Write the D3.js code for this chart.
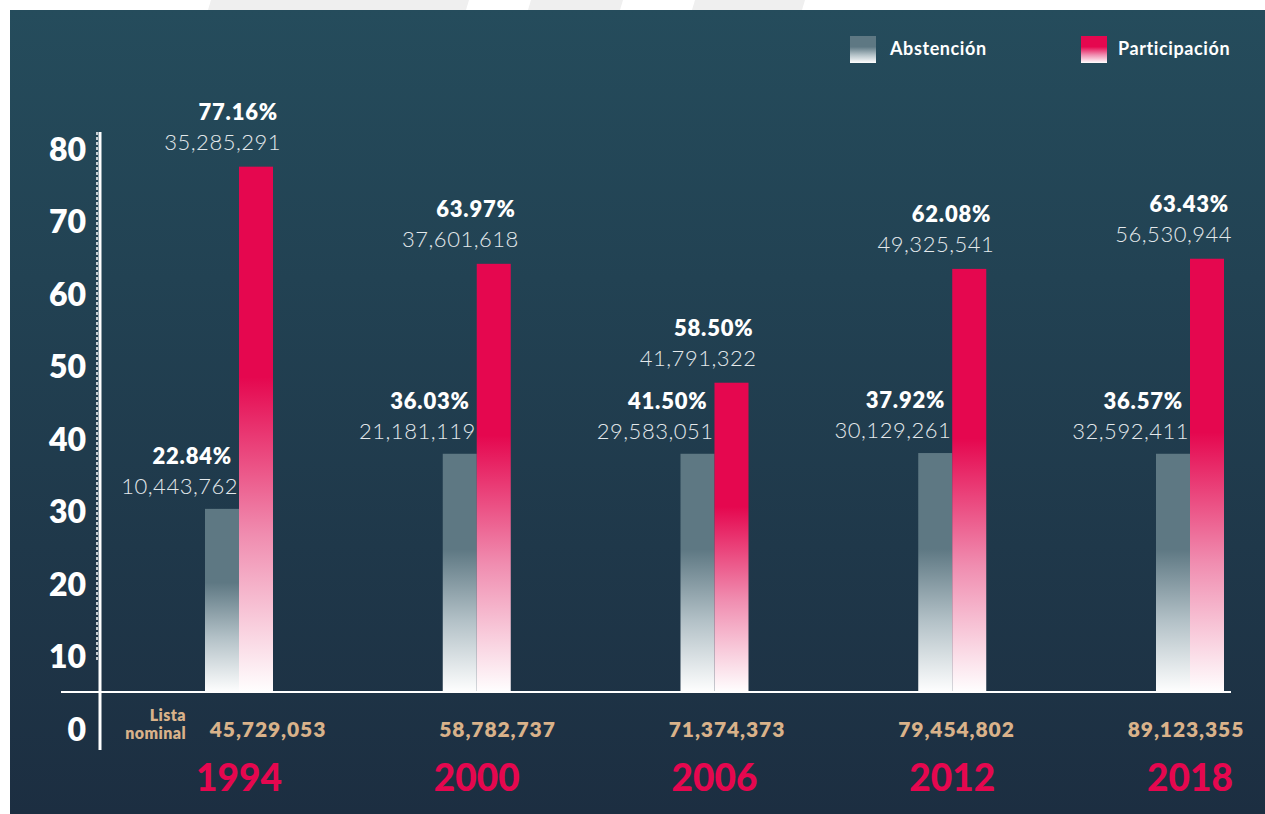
<!DOCTYPE html>
<html>
<head>
<meta charset="utf-8">
<script src="https://cdn.jsdelivr.net/npm/d3@7"></script>
<style>
  body { margin: 0; background: #ffffff; }
  svg { display: block; font-family: Lato, 'Open Sans', sans-serif; }
</style>
</head>
<body>
<svg id="chart"></svg>
<script>
// años de elección
const years = ['1994', '2000', '2006', '2012', '2018'];
// porcentajes (etiquetas)
const abstPct = [22.84, 36.03, 41.50, 37.92, 36.57];
const partPct = [77.16, 63.97, 58.50, 62.08, 63.43];
// votos
const abstVotes = [10443762, 21181119, 29583051, 30129261, 32592411];
const partVotes = [35285291, 37601618, 41791322, 49325541, 56530944];
const listaNominal = [45729053, 58782737, 71374373, 79454802, 89123355];
// altura de las barras leida contra el eje (el original no es proporcional a los %)
const abstBar = [30.5, 38.1, 38.1, 38.2, 38.1];
const partBar = [77.7, 64.3, 47.9, 63.6, 65.0];
// eje
const yTicks = [0, 10, 20, 30, 40, 50, 60, 70, 80];
const legendLabels = ['Abstención', 'Participación'];

class BarChart {

    constructor(config) {
        this.config = {
            parent: config.parent,
            width: config.width || 1265,
            height: config.height || 814
        };
        this.init();
    }

    init() {
        let self = this;

        self.svg = d3.select(self.config.parent)
            .attr('width', self.config.width)
            .attr('height', self.config.height);

        const defs = self.svg.append('defs');

        const bg = defs.append('linearGradient')
            .attr('id', 'bg').attr('x1', 0).attr('y1', 0).attr('x2', 0).attr('y2', 1);
        bg.append('stop').attr('offset', 0).attr('stop-color', '#254c5c');
        bg.append('stop').attr('offset', 1).attr('stop-color', '#1c2e41');

        const grad = (id, c, mid) => {
            const g = defs.append('linearGradient')
                .attr('id', id).attr('x1', 0).attr('y1', 0).attr('x2', 0).attr('y2', 1);
            g.append('stop').attr('offset', 0).attr('stop-color', c);
            g.append('stop').attr('offset', 0.4).attr('stop-color', c);
            g.append('stop').attr('offset', 0.7).attr('stop-color', mid);
            g.append('stop').attr('offset', 1).attr('stop-color', '#ffffff');
        };
        grad('gAbst', '#5e7883', '#b3c1c7');
        grad('gPart', '#e5074f', '#f08db0');

        self.y = d3.scaleLinear().domain([0, 80]).range([730, 150]);
        self.x = d3.scalePoint().domain(years).range([239, 1190]);
        // la fila de lista nominal no esta alineada con las barras
        self.xLista = d3.scalePoint().domain(years).range([268, 1186]);
        self.baseY = 693;
        self.barW = 34;
    }

    render() {
        let self = this;
        const svg = self.svg;
        const x = self.x, y = self.y;

        // franja blanca superior con formas grises
        svg.append('g').selectAll('polygon')
            .data([[211, 469], [531, 623], [695, 805]])
            .enter().append('polygon')
            .attr('points', d => `${d[0]},0 ${d[1]},0 ${d[1] - 3},10 ${d[0] - 3},10`)
            .attr('fill', '#efefef');

        svg.append('rect')
            .attr('x', 10).attr('y', 10)
            .attr('width', self.config.width - 10).attr('height', self.config.height - 10)
            .attr('fill', 'url(#bg)');

        // leyenda
        const leg = svg.append('g').selectAll('g')
            .data(legendLabels).enter().append('g')
            .attr('transform', (d, i) => `translate(${i === 0 ? 850 : 1081}, 36)`);
        leg.append('rect')
            .attr('width', 26).attr('height', 27)
            .attr('fill', (d, i) => i === 0 ? 'url(#gAbst)' : 'url(#gPart)');
        leg.append('text')
            .attr('x', (d, i) => i === 0 ? 40 : 37)
            .attr('y', 19)
            .attr('fill', '#ffffff')
            .attr('font-size', '18px')
            .attr('font-weight', 700)
            .attr('letter-spacing', '0.6px')
            .text(d => d);

        // eje y
        const axis = svg.append('g')
            .attr('transform', 'translate(100,0)')
            .call(d3.axisLeft(y).tickValues(yTicks).tickSize(0).tickPadding(14));
        axis.select('.domain').remove();
        axis.selectAll('text')
            .attr('fill', '#ffffff')
            .attr('font-size', '32px')
            .attr('font-weight', 800)
            .attr('font-family', 'Lato, sans-serif');

        svg.append('line')
            .attr('x1', 100).attr('x2', 100).attr('y1', 132).attr('y2', 750)
            .attr('stroke', '#ffffff').attr('stroke-width', 3);
        svg.append('line')
            .attr('x1', 97).attr('x2', 97).attr('y1', 132).attr('y2', 662)
            .attr('stroke', '#ffffff').attr('stroke-width', 1.5)
            .attr('stroke-dasharray', '3,2');

        // linea base
        svg.append('line')
            .attr('x1', 61).attr('x2', 1231).attr('y1', 692).attr('y2', 692)
            .attr('stroke', '#ffffff').attr('stroke-width', 2);

        const rows = years.map((yr, i) => ({
            year: yr, ap: abstPct[i], pp: partPct[i], av: abstVotes[i], pv: partVotes[i],
            ab: abstBar[i], pb: partBar[i], ln: listaNominal[i]
        }));
        const pctFmt = d => d3.format('.2f')(d) + '%';
        const numFmt = d3.format(',');

        const g = svg.append('g').selectAll('g')
            .data(rows).enter().append('g');

        // barras
        g.append('rect')
            .attr('x', d => x(d.year) - self.barW)
            .attr('y', d => y(d.ab))
            .attr('width', self.barW)
            .attr('height', d => self.baseY - y(d.ab))
            .attr('fill', 'url(#gAbst)');
        g.append('rect')
            .attr('x', d => x(d.year))
            .attr('y', d => y(d.pb))
            .attr('width', self.barW)
            .attr('height', d => self.baseY - y(d.pb))
            .attr('fill', 'url(#gPart)');

        // etiquetas
        const pct = (sel, xf, yf, f) => sel.append('text')
            .attr('x', xf).attr('y', yf)
            .attr('text-anchor', 'end')
            .attr('fill', '#ffffff')
            .attr('font-size', '22px')
            .attr('font-weight', 800)
            .attr('letter-spacing', '0.8px')
            .text(f);
        const num = (sel, xf, yf, f) => sel.append('text')
            .attr('x', xf).attr('y', yf)
            .attr('text-anchor', 'end')
            .attr('fill', '#e4e9ec')
            .attr('font-size', '22px')
            .attr('font-weight', 300)
            .attr('letter-spacing', '0.5px')
            .text(f);

        pct(g, d => x(d.year) + 39, d => y(d.pb) - 47, d => pctFmt(d.pp));
        num(g, d => x(d.year) + 42, d => y(d.pb) - 17, d => numFmt(d.pv));
        pct(g, d => x(d.year) - 7, d => y(d.ab) - 45, d => pctFmt(d.ap));
        num(g, d => x(d.year) - 1, d => y(d.ab) - 15, d => numFmt(d.av));

        // lista nominal
        g.append('text')
            .attr('x', d => self.xLista(d.year))
            .attr('y', 737)
            .attr('text-anchor', 'middle')
            .attr('fill', '#d9b28a')
            .attr('font-size', '21px')
            .attr('font-weight', 800)
            .attr('letter-spacing', '0.9px')
            .text(d => numFmt(d.ln));

        g.append('text')
            .attr('x', d => x(d.year))
            .attr('y', 791)
            .attr('text-anchor', 'middle')
            .attr('fill', '#e5074f')
            .attr('font-size', '37px')
            .attr('font-weight', 900)
            .text(d => d.year);

        svg.append('g').selectAll('text')
            .data(['Lista', 'nominal']).enter().append('text')
            .attr('x', 186)
            .attr('y', (d, i) => 721 + i * 18)
            .attr('text-anchor', 'end')
            .attr('fill', '#d9b28a')
            .attr('font-size', '16px')
            .attr('font-weight', 800)
            .attr('letter-spacing', '0.4px')
            .text(d => d);
    }
}

const chart = new BarChart({ parent: '#chart', width: 1265, height: 814 });
chart.render();
</script>
</body>
</html>
